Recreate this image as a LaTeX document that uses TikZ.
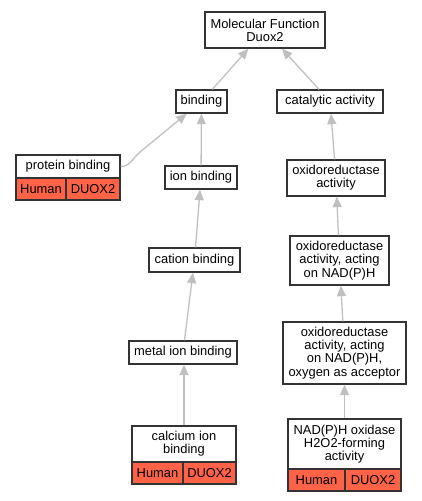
\documentclass[tikz,border=0pt]{standalone}
\usepackage{fontspec}
\setmainfont{Liberation Sans}
\usetikzlibrary{arrows.meta}
\definecolor{boxc}{HTML}{333333}
\definecolor{edgec}{HTML}{C0C0C0}
\definecolor{redc}{HTML}{FF6347}
\tikzset{
  box/.style={draw=boxc, line width=1.3pt, fill=white, inner sep=0pt, align=center,
    font=\fontsize{12.9}{13.2}\selectfont},
  cell/.style={box, fill=redc},
  edge/.style={draw=edgec, line width=1.3pt, -{Triangle[length=10.5pt,width=9pt]}},
}
\begin{document}
\begin{tikzpicture}[x=1pt,y=-1pt]
\useasboundingbox (0,0) rectangle (421,501);
% nodes
\node[box, minimum width=120pt, minimum height=36pt] (mf) at (265,30) {Molecular Function\\Duox2};
\node[box, minimum width=51pt, minimum height=23pt] (bind) at (201.5,101.5) {binding};
\node[box, minimum width=106pt, minimum height=23pt] (cat) at (330,101.5) {catalytic activity};
\node[box, minimum width=104pt, minimum height=23pt] (prot) at (68,166.5) {protein binding};
\node[cell, minimum width=50pt, minimum height=22pt] (protH) at (41,189) {Human};
\node[cell, minimum width=54pt, minimum height=22pt] (protD) at (93,189) {DUOX2};
\node[box, minimum width=72pt, minimum height=23pt] (ion) at (201,177.5) {ion binding};
\node[box, minimum width=98pt, minimum height=36pt] (oxa) at (336,178) {oxidoreductase\\activity};
\node[box, minimum width=91pt, minimum height=24pt] (cation) at (194.5,260) {cation binding};
\node[box, minimum width=99pt, minimum height=49pt] (nadph) at (339.5,260.5) {oxidoreductase\\activity, acting\\on NAD(P)H};
\node[box, minimum width=108pt, minimum height=23pt] (metal) at (183,352.5) {metal ion binding};
\node[box, minimum width=123pt, minimum height=62pt] (oxy) at (344.5,353) {oxidoreductase\\activity, acting\\on NAD(P)H,\\oxygen as acceptor};
\node[box, minimum width=104pt, minimum height=36pt] (calc) at (184,444) {calcium ion\\binding};
\node[cell, minimum width=51pt, minimum height=22pt] (calcH) at (157.5,473) {Human};
\node[cell, minimum width=53pt, minimum height=22pt] (calcD) at (209.5,473) {DUOX2};
\node[box, minimum width=113pt, minimum height=50pt] (nox) at (344.5,444) {NAD(P)H oxidase\\H2O2-forming\\activity};
\node[cell, minimum width=57pt, minimum height=22pt] (noxH) at (316.5,480) {Human};
\node[cell, minimum width=56pt, minimum height=22pt] (noxD) at (373,480) {DUOX2};
% edges
\draw[edge] (bind) -- (mf);
\draw[edge] (cat) -- (mf);
\draw[edge] (prot.east) .. controls +(9,0) and (132,159) .. (140,152) -- (bind);
\draw[edge] (ion) -- (bind);
\draw[edge] (oxa) -- (cat);
\draw[edge] (cation) -- (ion);
\draw[edge] (nadph) -- (oxa);
\draw[edge] (metal) -- (cation);
\draw[edge] (oxy) -- (nadph);
\draw[edge] (calc.north) -- (metal.south -| calc.north);
\draw[edge] (nox.north) -- (oxy.south -| nox.north);
\end{tikzpicture}
\end{document}
